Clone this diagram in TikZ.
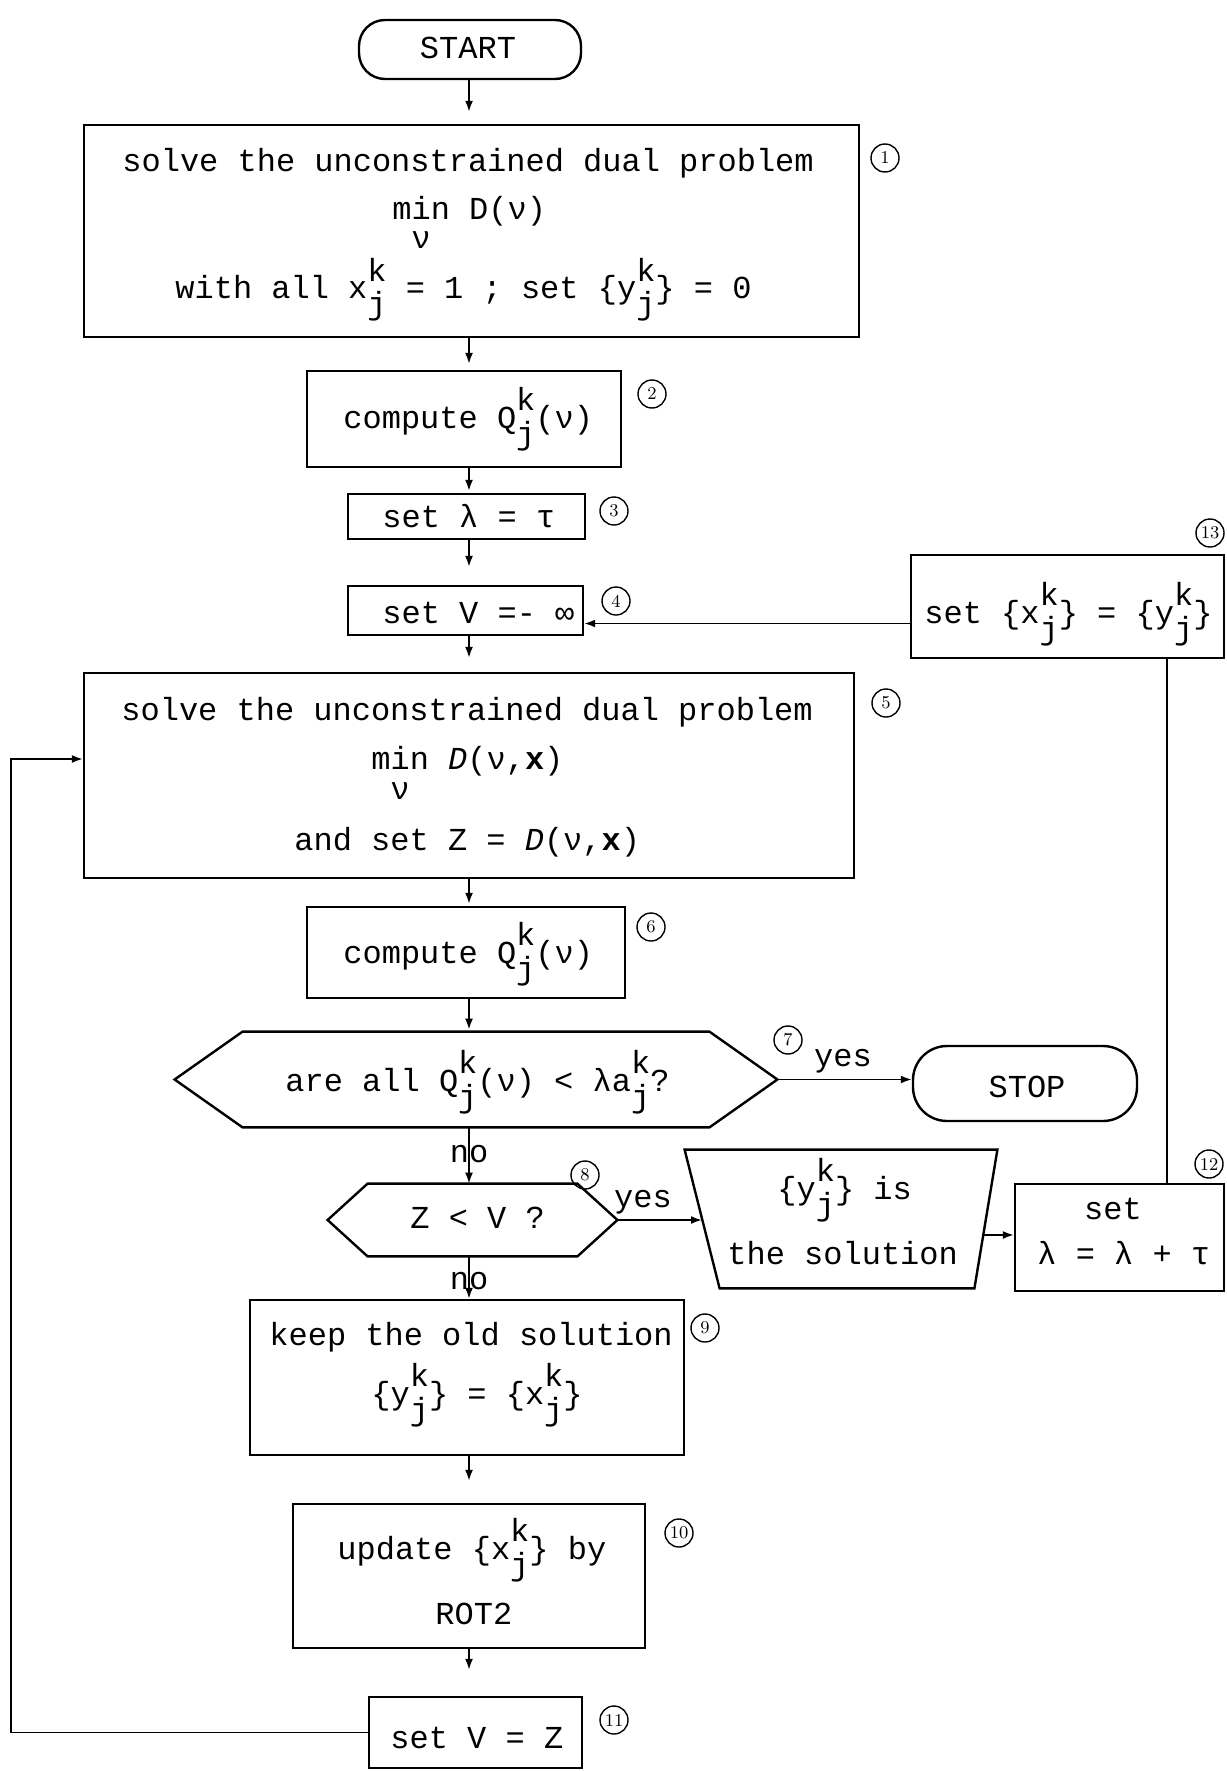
\documentclass[tikz,border=0pt]{standalone}
\usepackage{fontspec}
\newfontfamily\tw{Liberation Mono}
\usetikzlibrary{arrows.meta,fit}
\newcommand\kj[2]{\rlap{\raisebox{0.55em}{#1}}\raisebox{-0.5em}{#2}}
\begin{document}
\begin{tikzpicture}[x=0.5pt,y=-0.5pt,
  outline/.style={line width=1.2pt},
  box/.style={draw, line width=1.2pt, inner sep=0pt, rectangle},
  shapebox/.style={draw=none, inner sep=0pt, rectangle},
  term/.style={draw, line width=1.2pt, inner sep=0pt},
  txt/.style={font=\tw\fontsize{16}{19}\selectfont, inner sep=0pt, anchor=base west},
  lbl/.style={font=\tw\fontsize{16}{19}\selectfont, inner sep=0pt, anchor=base},
  num/.style={circle, draw, line width=0.7pt, minimum size=14pt, inner sep=0pt, font=\fontsize{9}{9}\selectfont},
  line/.style={line width=0.9pt},
  arr/.style={line width=0.9pt, -{Latex[length=5.5pt,width=4pt]}},
]
\fill[white] (0,0) rectangle (1226,1771);
\useasboundingbox (0,0) rectangle (1226,1771);

% ---- shapes ----
\node[term, rounded corners=13pt, fit={(359,20) (581,79)}] (start) {};
\node[box, fit={(84,125) (859,337)}] (b1) {};
\node[box, fit={(307,371) (621,467)}] (b2) {};
\node[box, fit={(348,494) (585,539)}] (b3) {};
\node[box, fit={(348,586) (583,635)}] (b4) {};
\node[box, fit={(911,555) (1224,658)}] (b13) {};
\node[box, fit={(84,673) (854,878)}] (b5) {};
\node[box, fit={(307,907) (625,998)}] (b6) {};
\node[shapebox, fit={(175,1032) (777,1127)}] (h7) {};
\draw[outline] (h7.west) -- ([xshift=34pt]h7.north west) -- ([xshift=-34pt]h7.north east) -- (h7.east)
  -- ([xshift=-34pt]h7.south east) -- ([xshift=34pt]h7.south west) -- cycle;
\node[term, rounded corners=17pt, fit={(913,1046) (1137,1121)}] (stop) {};
\node[shapebox, fit={(328,1184) (617,1256)}] (h8) {};
\draw[outline] (h8.west) -- ([xshift=20pt]h8.north west) -- ([xshift=-20pt]h8.north east) -- (h8.east)
  -- ([xshift=-20pt]h8.south east) -- ([xshift=20pt]h8.south west) -- cycle;
\node[shapebox, fit={(685,1150) (997,1288)}] (tr) {};
\draw[outline] (tr.north west) -- (tr.north east) -- ([xshift=-11.5pt]tr.south east) -- ([xshift=17.5pt]tr.south west) -- cycle;
\node[box, fit={(1015,1184) (1224,1291)}] (b12) {};
\node[box, fit={(250,1300) (684,1455)}] (b9) {};
\node[box, fit={(293,1504) (645,1648)}] (b10) {};
\node[box, fit={(369,1697) (582,1768)}] (b11) {};

% ---- texts ----
\node[lbl] (tst) at (468,59) {START};
\node[txt] (t1a) at (122,172) {solve the unconstrained dual problem};
\node[txt] (t1b) at (392,220) {min D(ν)};
\node[lbl] (t1c) at (421,249) {ν};
\node[txt] (t1d) at (175,299) {with all x\kj{k}{j} = 1 ; set \{y\kj{k}{j}\} = 0};
\node[txt] (t2) at (343,428) {compute Q\kj{k}{j}(ν)};
\node[txt] (t3) at (382,527) {set λ = τ};
\node[txt] (t4) at (382,623) {set V =- ∞};
\node[txt] (t13) at (924,623) {set \{x\kj{k}{j}\} = \{y\kj{k}{j}\}};
\node[txt] (t5a) at (121,720) {solve the unconstrained dual problem};
\node[txt] (t5b) at (371,769) {min \textit{D}(ν,\textbf{x})};
\node[lbl] (t5c) at (400,799) {ν};
\node[txt] (t5d) at (294,850) {and set Z = \textit{D}(ν,\textbf{x})};
\node[txt] (t6) at (343,963) {compute Q\kj{k}{j}(ν)};
\node[txt] (t7) at (285,1091) {are all Q\kj{k}{j}(ν) < λa\kj{k}{j}?};
\node[lbl] (tstop) at (1027,1097) {STOP};
\node[txt] (t8) at (410,1228) {Z < V ?};
\node[txt] (ttra) at (777,1199) {\{y\kj{k}{j}\} is};
\node[txt] (ttrb) at (727,1264) {the solution};
\node[lbl] (t12a) at (1113,1219) {set};
\node[txt] (t12b) at (1037,1264) {λ = λ + τ};
\node[txt] (t9a) at (269,1345) {keep the old solution};
\node[txt] (t9b) at (371,1404) {\{y\kj{k}{j}\} = \{x\kj{k}{j}\}};
\node[txt] (t10a) at (337,1559) {update \{x\kj{k}{j}\} by};
\node[txt] (t10b) at (435,1624) {ROT2};
\node[txt] (t11) at (390,1748) {set V = Z};

% ---- numbers ----
\node[num] (n1) at (885,158) {1};
\node[num] (n2) at (652,394) {2};
\node[num] (n3) at (614,511) {3};
\node[num] (n4) at (616,601) {4};
\node[num] (n5) at (886,703) {5};
\node[num] (n6) at (651,927) {6};
\node[num] (n7) at (788,1040) {7};
\node[num] (n8) at (585,1175) {8};
\node[num] (n9) at (705,1328) {9};
\node[num] (n10) at (679,1533) {10};
\node[num] (n11) at (614,1720) {11};
\node[num] (n12) at (1209,1164) {12};
\node[num] (n13) at (1210,533) {13};

% ---- connectors ----
\coordinate (ax) at (469,0);
\draw[arr, shorten >=6pt] (start.south -| ax) -- (b1.north -| ax);
\draw[arr, shorten >=3pt] (b1.south -| ax) -- (b2.north -| ax);
\draw[arr, shorten >=1pt] (b2.south -| ax) -- (b3.north -| ax);
\draw[arr, shorten >=9pt] (b3.south -| ax) -- (b4.north -| ax);
\draw[arr, shorten >=7pt] (b4.south -| ax) -- (b5.north -| ax);
\draw[arr, shorten >=1pt] (b5.south -| ax) -- (b6.north -| ax);
\draw[arr, shorten >=1pt] (b6.south -| ax) -- (h7.north -| ax);
\draw[arr] (h7.south -| ax) -- (h8.north -| ax);
\draw[arr] (h8.south -| ax) -- (b9.north -| ax);
\draw[arr, shorten >=11pt] (b9.south -| ax) -- (b10.north -| ax);
\draw[arr, shorten >=13pt] (b10.south -| ax) -- (b11.north -| ax);

\node[lbl] (no1) at (469,1162) {no};
\node[lbl] (no2) at (469,1289) {no};

\draw[arr] (h7.east) -- (h7.east -| stop.west);
\node[lbl] (yes1) at (843,1066) {yes};
\coordinate (trL) at (702,1220);
\draw[arr] (h8.east) -- (trL);
\node[lbl] (yes2) at (643,1207) {yes};
\coordinate (trR) at (983,1235);
\draw[arr] (trR) -- (trR -| b12.west);

\coordinate (c12) at (1167,0);
\draw[line] (b12.north -| c12) -- (b13.south -| c12);
\coordinate (a13) at ([yshift=-8.5pt]b13.west);
\draw[arr] (a13) -- (a13 -| b4.east);

\coordinate (lp) at (11,759);
\draw[arr] (b11.west) -- (b11.west -| lp) -- (lp) -- (lp -| b5.west);
\end{tikzpicture}
\end{document}
